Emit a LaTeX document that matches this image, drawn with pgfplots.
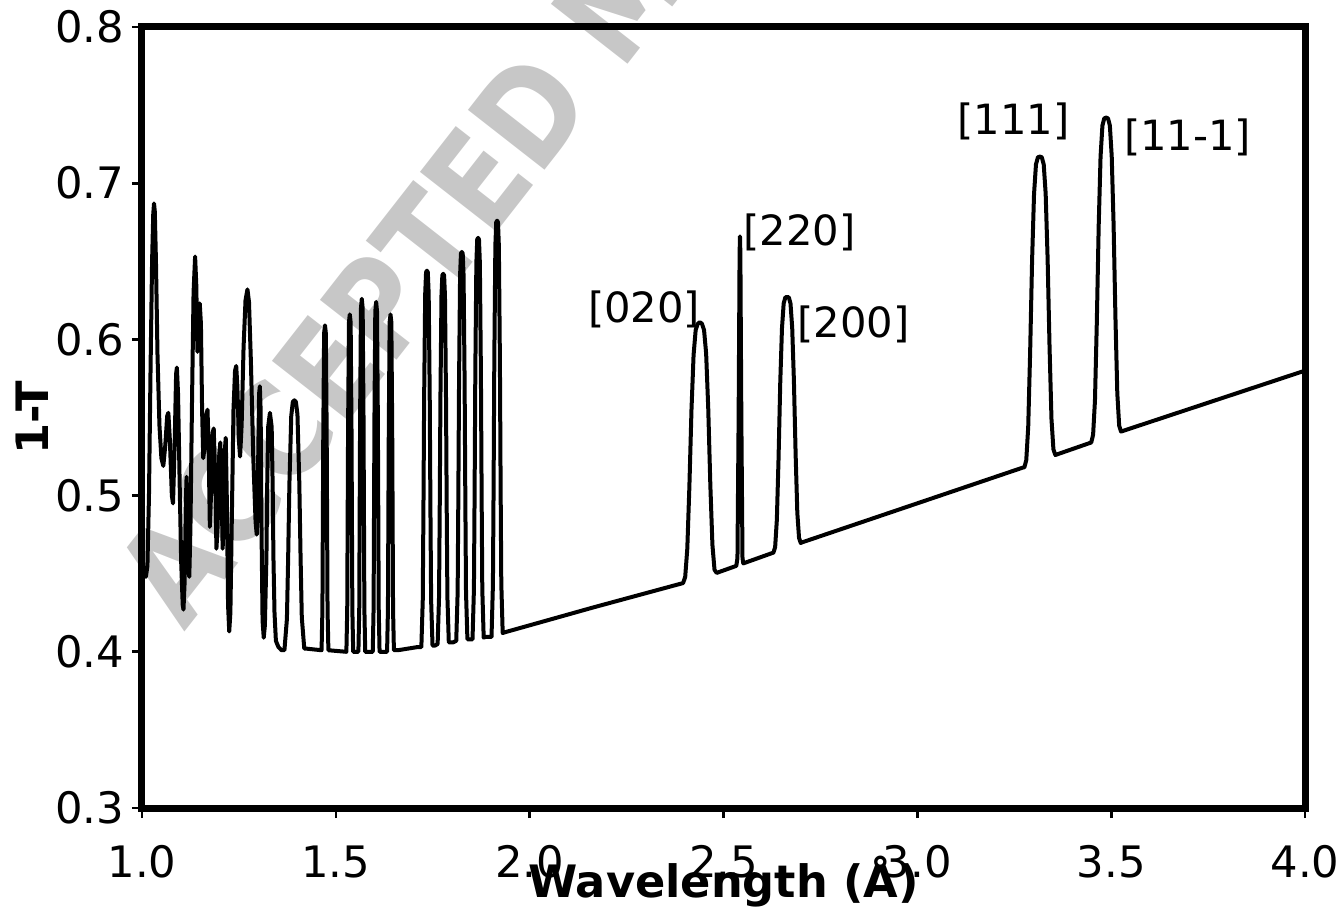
\documentclass[border=0pt]{standalone}
\usepackage{graphicx}
\usepackage{pgfplots}
\pgfplotsset{compat=1.18}
\usepackage{fontspec}
\setmainfont{DejaVu Sans}
\begin{document}
\begin{tikzpicture}
\useasboundingbox (-42.6pt,-29.7pt) rectangle (360.3pt,242.4pt);
\node[rotate=52, anchor=base west, inner sep=0pt, text=black!22, font=\fontsize{40}{40}\selectfont\bfseries] at (12.5pt,52.5pt) {\scalebox{0.86}[1]{ACCEPTED MANUSCRIPT}};
\begin{axis}[
  scale only axis, width=348.9pt, height=234.3pt,
  at={(0pt,0pt)}, anchor=south west,
  xmin=1, xmax=4, ymin=0.3, ymax=0.8,
  xtick={1,1.5,2,2.5,3,3.5,4},
  ytick={0.3,0.4,0.5,0.6,0.7,0.8},
  xtick pos=bottom, ytick pos=left,
  tick align=outside, major tick length=3pt,
  tick style={line width=0.8pt, black},
  axis line style={line width=2.1pt},
  /pgf/number format/assume math mode=true,
  xticklabel style={font=\fontsize{13}{15}\selectfont, anchor=base, yshift=-17.7pt,
     /pgf/number format/.cd, fixed, fixed zerofill, precision=1},
  yticklabel style={font=\fontsize{13}{15}\selectfont, anchor=east, inner sep=0pt, xshift=-2.1pt,
     /pgf/number format/.cd, fixed, fixed zerofill, precision=1},
  xlabel={Wavelength (Å)},
  ylabel={1-T},
  xlabel style={font=\fontsize{13.4}{15}\selectfont\bfseries, at={(axis description cs:0.5,-0.114)}, anchor=base},
  ylabel style={font=\fontsize{13.4}{15}\selectfont\bfseries, at={(axis description cs:-0.0946,0.5)}, anchor=center},
]
\addplot[black, line width=1.2pt, line join=round] coordinates {
(1.000,0.458) (1.005,0.452) (1.010,0.448) (1.014,0.455) (1.018,0.50) (1.022,0.58)
(1.026,0.650) (1.029,0.680) (1.031,0.687) (1.033,0.682) (1.036,0.650) (1.040,0.590)
(1.045,0.545) (1.050,0.524) (1.055,0.519) (1.060,0.532) (1.065,0.551) (1.068,0.553)
(1.072,0.535) (1.077,0.500) (1.080,0.495) (1.084,0.530) (1.088,0.578) (1.090,0.582)
(1.093,0.565) (1.097,0.510) (1.101,0.458) (1.105,0.430) (1.107,0.427) (1.110,0.445)
(1.113,0.495) (1.115,0.512) (1.117,0.495) (1.120,0.452) (1.122,0.448) (1.125,0.480)
(1.129,0.560) (1.133,0.630) (1.137,0.653) (1.140,0.635) (1.143,0.592) (1.146,0.605)
(1.149,0.623) (1.152,0.610) (1.155,0.555) (1.158,0.524) (1.161,0.530) (1.166,0.552)
(1.169,0.555) (1.172,0.530) (1.175,0.480) (1.178,0.500) (1.182,0.540) (1.185,0.543)
(1.189,0.510) (1.192,0.466) (1.195,0.480) (1.199,0.525) (1.202,0.534) (1.205,0.510)
(1.208,0.466) (1.211,0.485) (1.214,0.530) (1.216,0.537) (1.219,0.495) (1.222,0.430)
(1.225,0.413) (1.228,0.425) (1.232,0.490) (1.236,0.555) (1.240,0.580) (1.243,0.583)
(1.246,0.570) (1.250,0.535) (1.253,0.525) (1.257,0.545) (1.262,0.595) (1.267,0.625)
(1.272,0.632) (1.276,0.624) (1.281,0.585) (1.287,0.525) (1.293,0.483) (1.296,0.475)
(1.299,0.510) (1.302,0.565) (1.304,0.570) (1.306,0.555) (1.308,0.485) (1.311,0.420)
(1.314,0.409) (1.317,0.417) (1.321,0.461) (1.3228,0.504) (1.3255,0.544) (1.330,0.553)
(1.3345,0.544) (1.3372,0.504) (1.339,0.461) (1.3418,0.425) (1.3454,0.407) (1.352,0.403)
(1.360,0.401) (1.3674,0.401) (1.3738,0.421) (1.377,0.460) (1.3802,0.507) (1.385,0.551)
(1.389,0.560) (1.393,0.561) (1.397,0.560) (1.401,0.552) (1.4058,0.508) (1.409,0.461)
(1.4122,0.422) (1.4186,0.402) (1.425,0.402) (1.4632,0.401)
(1.4654,0.427) (1.4676,0.539) (1.4698,0.604) (1.472,0.609) (1.4742,0.604) (1.4764,0.539) (1.4786,0.427) (1.4808,0.401)
(1.5272,0.400) (1.5294,0.427) (1.5316,0.543) (1.5338,0.611) (1.536,0.616) (1.5382,0.611) (1.5404,0.543) (1.5426,0.427) (1.5448,0.400)
(1.5582,0.400) (1.5604,0.428) (1.5626,0.550) (1.5648,0.620) (1.567,0.626) (1.5692,0.620) (1.5714,0.550) (1.5736,0.428) (1.5758,0.400)
(1.5952,0.400) (1.5974,0.428) (1.5996,0.549) (1.6018,0.618) (1.604,0.624) (1.6062,0.618) (1.6084,0.549) (1.6106,0.428) (1.6128,0.400)
(1.6322,0.400) (1.6344,0.427) (1.6366,0.543) (1.6388,0.611) (1.641,0.616) (1.6432,0.611) (1.6454,0.543) (1.6476,0.427) (1.6498,0.401)
(1.660,0.401) (1.710,0.403)
(1.7206,0.403) (1.7242,0.433) (1.726,0.492) (1.7278,0.563) (1.7305,0.629) (1.73275,0.643) (1.735,0.644) (1.73725,0.643) (1.7395,0.629) (1.7422,0.563) (1.744,0.492) (1.7458,0.433) (1.7494,0.404)
(1.756,0.404)
(1.7626,0.405) (1.7662,0.435) (1.768,0.492) (1.7698,0.562) (1.7725,0.628) (1.77475,0.641) (1.777,0.642) (1.77925,0.641) (1.7815,0.628) (1.7842,0.562) (1.786,0.492) (1.7878,0.435) (1.7914,0.406)
(1.802,0.406)
(1.8106,0.407) (1.8142,0.438) (1.816,0.499) (1.8178,0.572) (1.8205,0.641) (1.82275,0.655) (1.825,0.656) (1.82725,0.655) (1.8295,0.641) (1.8322,0.572) (1.834,0.499) (1.8358,0.438) (1.8394,0.408)
(1.846,0.408)
(1.8526,0.408) (1.8562,0.440) (1.858,0.503) (1.8598,0.579) (1.8625,0.649) (1.86475,0.664) (1.867,0.665) (1.86925,0.664) (1.8715,0.649) (1.8742,0.579) (1.876,0.503) (1.8778,0.440) (1.8814,0.409)
(1.885,0.4095)
(1.9016,0.4095) (1.9052,0.443) (1.907,0.508) (1.9088,0.587) (1.9115,0.660) (1.91375,0.675) (1.916,0.676) (1.91825,0.675) (1.9205,0.660) (1.9232,0.587) (1.925,0.508) (1.9268,0.444) (1.9304,0.412)
(1.936,0.4125) (2.164,0.4284) (2.3958,0.444)
(2.4012,0.448) (2.4066,0.466) (2.412,0.506) (2.4174,0.555) (2.4228,0.590) (2.4282,0.606) (2.4336,0.610) (2.439,0.611) (2.4444,0.610) (2.4498,0.606) (2.4552,0.591) (2.4606,0.556) (2.466,0.507) (2.4714,0.4685) (2.4768,0.4525) (2.4822,0.4505)
(2.533,0.455) (2.536,0.460) (2.539,0.550) (2.5415,0.655) (2.5425,0.666) (2.5435,0.655) (2.546,0.550) (2.549,0.460) (2.551,0.4566)
(2.6288,0.4635) (2.6332,0.467) (2.6376,0.4845) (2.642,0.524) (2.6464,0.5726) (2.6508,0.607) (2.6552,0.623) (2.6596,0.627) (2.664,0.627) (2.6684,0.627) (2.6728,0.623) (2.6772,0.6075) (2.6816,0.5736) (2.686,0.5268) (2.6904,0.489) (2.6948,0.473) (2.6992,0.4697)
(2.702,0.470) (3.273,0.518)
(3.276,0.518) (3.281,0.5227) (3.286,0.544) (3.291,0.5922) (3.296,0.6508) (3.301,0.693) (3.306,0.712) (3.311,0.7166) (3.316,0.717) (3.321,0.7166) (3.326,0.712) (3.331,0.6934) (3.336,0.652) (3.341,0.5953) (3.346,0.549) (3.351,0.5296) (3.356,0.526)
(3.4486,0.534) (3.4534,0.539) (3.4582,0.561) (3.463,0.6115) (3.4678,0.6728) (3.4726,0.717) (3.4774,0.7369) (3.4822,0.7415) (3.487,0.742) (3.4918,0.7415) (3.4966,0.7369) (3.5014,0.7172) (3.5062,0.6738) (3.511,0.614) (3.5158,0.5655) (3.5206,0.5448) (3.5254,0.541)
(4.000,0.580)
};
\node[font=\fontsize{12.5}{14}\selectfont, anchor=base] at (axis cs:2.295,0.6105) {[020]};
\node[font=\fontsize{12.5}{14}\selectfont, anchor=base] at (axis cs:2.696,0.660) {[220]};
\node[font=\fontsize{12.5}{14}\selectfont, anchor=base] at (axis cs:2.835,0.601) {[200]};
\node[font=\fontsize{12.5}{14}\selectfont, anchor=base] at (axis cs:3.248,0.731) {[111]};
\node[font=\fontsize{12.5}{14}\selectfont, anchor=base] at (axis cs:3.697,0.721) {[11-1]};
\end{axis}
\end{tikzpicture}
\end{document}
